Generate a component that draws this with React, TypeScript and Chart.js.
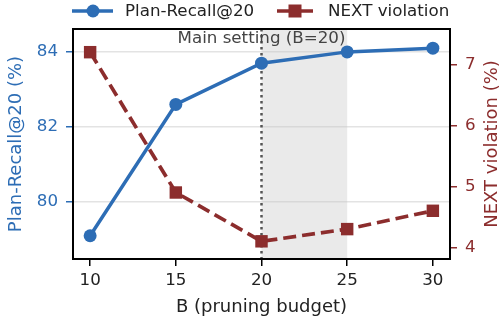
import React, { useEffect, useRef } from "react";
import { Chart, registerables } from "chart.js";

Chart.register(...registerables);

const budgets = [10, 15, 20, 25, 30];
const planRecall = [79.1, 82.6, 83.7, 84.0, 84.1];
const nextViolation = [7.2, 4.9, 4.1, 4.3, 4.6];
const xTicks = [10, 15, 20, 25, 30];
const leftTicks = [80, 82, 84];
const rightTicks = [4, 5, 6, 7];
const mainSetting = 20;
const shadeRange = [20, 25];

const BLUE = "#2d6db5";
const RED = "#8c2d2d";
const FONT = "DejaVu Sans";
const TICK_SIZE = 16.7;
const TITLE_SIZE = 18;

const decorPlugin = {
  id: "decor",
  beforeDatasetsDraw(chart: any) {
    const { ctx, chartArea } = chart;
    const xs = chart.scales.x;
    ctx.save();
    const x0 = xs.getPixelForValue(shadeRange[0]);
    const x1 = xs.getPixelForValue(shadeRange[1]);
    ctx.fillStyle = "rgba(200,200,200,0.38)";
    ctx.fillRect(x0, chartArea.top, x1 - x0, chartArea.bottom - chartArea.top);
    const xm = xs.getPixelForValue(mainSetting);
    ctx.strokeStyle = "#555555";
    ctx.lineWidth = 2.5;
    ctx.setLineDash([2.5, 3.5]);
    ctx.beginPath();
    ctx.moveTo(xm, chartArea.top);
    ctx.lineTo(xm, chartArea.bottom);
    ctx.stroke();
    ctx.setLineDash([]);
    ctx.fillStyle = "#444444";
    ctx.font = `${TICK_SIZE}px "${FONT}"`;
    ctx.textAlign = "center";
    ctx.textBaseline = "middle";
    ctx.fillText(`Main setting (B=${mainSetting})`, xm, chartArea.top + 10);
    ctx.restore();
  },
  afterDraw(chart: any) {
    const { ctx, chartArea } = chart;
    ctx.save();
    ctx.strokeStyle = "#000000";
    ctx.lineWidth = 2;
    ctx.strokeRect(chartArea.left, chartArea.top, chartArea.right - chartArea.left, chartArea.bottom - chartArea.top);
    ctx.fillStyle = RED;
    ctx.font = `${TITLE_SIZE}px "${FONT}"`;
    ctx.textAlign = "center";
    ctx.textBaseline = "middle";
    ctx.translate(492, (chartArea.top + chartArea.bottom) / 2);
    ctx.rotate(-Math.PI / 2);
    ctx.fillText("NEXT violation (%)", 0, 0);
    ctx.restore();

    ctx.save();
    const ly = 11;
    ctx.lineWidth = 3.5;
    ctx.strokeStyle = BLUE;
    ctx.beginPath();
    ctx.moveTo(72, ly);
    ctx.lineTo(113, ly);
    ctx.stroke();
    ctx.fillStyle = BLUE;
    ctx.beginPath();
    ctx.arc(93, ly, 6.5, 0, Math.PI * 2);
    ctx.fill();
    ctx.strokeStyle = RED;
    ctx.beginPath();
    ctx.moveTo(277, ly);
    ctx.lineTo(313, ly);
    ctx.stroke();
    ctx.fillStyle = RED;
    ctx.fillRect(295 - 6.5, ly - 6.5, 13, 13);
    ctx.fillStyle = "#222222";
    ctx.font = `${TICK_SIZE}px "${FONT}"`;
    ctx.textAlign = "left";
    ctx.textBaseline = "middle";
    ctx.fillText("Plan-Recall@20", 125, ly + 1);
    ctx.fillText("NEXT violation", 328, ly + 1);
    ctx.restore();
  },
};

export default function App() {
  const ref = useRef<HTMLCanvasElement | null>(null);
  useEffect(() => {
    if (!ref.current) return;
    const chart = new Chart(ref.current, {
      type: "line",
      data: {
        datasets: [
          {
            label: "Plan-Recall@20",
            data: budgets.map((b, i) => ({ x: b, y: planRecall[i] })),
            borderColor: BLUE,
            backgroundColor: BLUE,
            borderWidth: 3.5,
            pointStyle: "circle",
            pointRadius: 6.5,
            pointBorderWidth: 0,
            yAxisID: "y",
            order: 0,
          },
          {
            label: "NEXT violation",
            data: budgets.map((b, i) => ({ x: b, y: nextViolation[i] })),
            borderColor: RED,
            backgroundColor: RED,
            borderWidth: 3.7,
            borderDash: [13, 6],
            pointStyle: "rect",
            pointRadius: 8.8,
            pointBorderWidth: 0,
            yAxisID: "y1",
            order: 1,
          },
        ],
      },
      options: {
        responsive: false,
        animation: false,
        layout: { padding: { top: 29, right: 0, left: 0, bottom: 0 } },
        plugins: { legend: { display: false }, tooltip: { enabled: false } },
        scales: {
          x: {
            type: "linear",
            min: 9,
            max: 31,
            afterBuildTicks: (s: any) => {
              s.ticks = xTicks.map((v) => ({ value: v }));
            },
            afterFit: (s: any) => {
              s.height = 63;
            },
            border: { display: false },
            grid: { drawOnChartArea: false, drawTicks: true, tickLength: 7, tickColor: "#000", lineWidth: 1.5 },
            ticks: { color: "#222", font: { family: FONT, size: TICK_SIZE }, padding: 5, maxRotation: 0 },
            title: {
              display: true,
              text: "B (pruning budget)",
              color: "#222",
              font: { family: FONT, size: TITLE_SIZE },
              padding: { top: 0, bottom: 4 },
            },
          },
          y: {
            type: "linear",
            position: "left",
            min: 78.48,
            max: 84.61,
            afterBuildTicks: (s: any) => {
              s.ticks = leftTicks.map((v) => ({ value: v }));
            },
            afterFit: (s: any) => {
              s.width = 73;
            },
            border: { display: false },
            grid: { color: "#e3e3e3", lineWidth: 1.5, tickLength: 7, tickColor: BLUE, drawTicks: true },
            ticks: { color: BLUE, font: { family: FONT, size: TICK_SIZE }, padding: 8 },
            title: {
              display: true,
              text: "Plan-Recall@20 (%)",
              color: BLUE,
              font: { family: FONT, size: TITLE_SIZE },
              padding: { top: 6, bottom: 0 },
            },
          },
          y1: {
            type: "linear",
            position: "right",
            min: 3.81,
            max: 7.58,
            afterBuildTicks: (s: any) => {
              s.ticks = rightTicks.map((v) => ({ value: v }));
            },
            afterFit: (s: any) => {
              s.width = 52;
            },
            border: { display: false },
            grid: { drawOnChartArea: false, tickLength: 7, tickColor: RED, lineWidth: 1.5, drawTicks: true },
            ticks: { color: RED, font: { family: FONT, size: TICK_SIZE }, padding: 8 },
            title: { display: false },
          },
        },
      },
      plugins: [decorPlugin],
    } as any);
    return () => chart.destroy();
  }, []);
  return (
    <div style={{ position: "absolute", left: 0, top: 0, width: 502, height: 322, background: "#fff" }}>
      <canvas ref={ref} width={502} height={322} style={{ width: 502, height: 322 }} />
    </div>
  );
}
